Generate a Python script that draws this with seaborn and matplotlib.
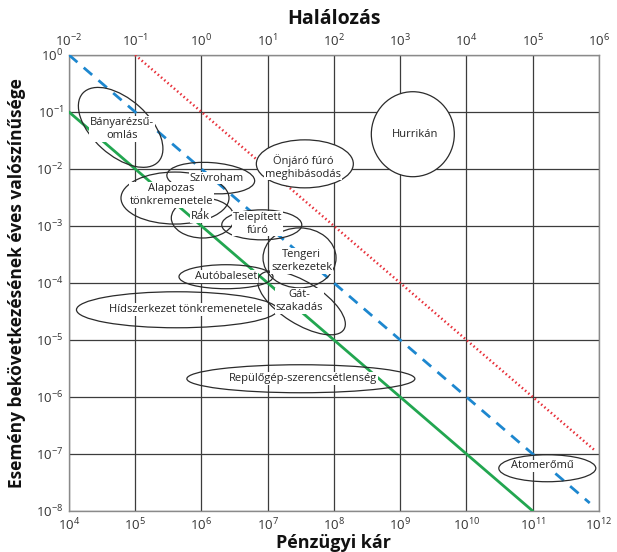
import numpy as np
import pandas as pd
import matplotlib
matplotlib.use("Agg")
import matplotlib.pyplot as plt
import matplotlib.transforms as mtransforms
from matplotlib.patches import Ellipse
from matplotlib.ticker import LogLocator, LogFormatterMathtext, NullLocator
import seaborn as sns

# --- Data (log10 of values) ---
# limit lines: x = pénzügyi kár, y = éves valószínűség
line_names = ["green", "blue", "red"]
line_x = [[1e4, 1e11], [1e4, 10**11.86], [1e5, 10**11.93]]
line_y = [[1e-1, 1e-8], [1e0, 10**-7.86], [1e0, 10**-6.93]]

# events (ellipse centres in log10 units)
events = ["Bányarézsű-\nomlás", "Alapozas\ntönkremenetele", "Szívroham", "Rák",
          "Telepített\nfúró", "Önjáró fúró\nmeghibásodás", "Hurrikán",
          "Tengeri\nszerkezetek", "Autóbaleset", "Gát-\nszakadás",
          "Hídszerkezet tönkremenetele", "Repülőgép-szerencsétlenség", "Atomerőmű"]
ev_lx = [4.78, 5.60, 6.14, 6.02, 6.91, 7.56, 9.19, 7.48, 6.37, 7.51, 5.63, 7.50, 11.22]
ev_ly = [-1.27, -2.51, -2.16, -2.86, -2.98, -1.91, -1.39, -3.56, -3.89, -4.35, -4.47, -5.68, -7.25]
txt_lx = [4.80, 5.55, 6.23, 5.99, 6.85, 7.53, 9.23, 7.51, 6.37, 7.48, 5.76, 7.53, 11.15]
txt_ly = [-1.30, -2.46, -2.16, -2.84, -2.96, -1.96, -1.39, -3.61, -3.89, -4.32, -4.47, -5.68, -7.21]

# --- Style ---
ell_w = [102, 108, 88, 63, 80, 97, 83, 73, 94, 100, 201, 228, 97]
ell_h = [56, 52, 31, 40, 30, 48, 85, 60, 24, 42, 36, 28, 27]
ell_ang = [-42, 0, -4, 0, 0, 0, 0, 0, 0, -32, 0, 0, 0]
ell_fill = [False, False, False, False, False, True, True, False, False, False, False, False, False]
line_colors = {"green": "#22a650", "blue": "#1d87cf", "red": "#e8303a"}
line_styles = {"green": "-", "blue": (0, (4, 3)), "red": (0, (0.6, 1.1))}
line_widths = {"green": 2.0, "blue": 2.0, "red": 1.8}

sns.set_theme(style="white")
plt.rcParams["font.family"] = ["Open Sans", "DejaVu Sans"]

fig = plt.figure(figsize=(6.17, 5.52), dpi=100)
ax = fig.add_axes([0.1118, 0.0743, 0.8590, 0.8261])

df = pd.concat([pd.DataFrame({"x": xs, "y": ys, "line": n})
                for n, xs, ys in zip(line_names, line_x, line_y)])
for n in line_names:
    sub = df[df["line"] == n]
    sns.lineplot(data=sub, x="x", y="y", ax=ax, color=line_colors[n],
                 linestyle=line_styles[n], linewidth=line_widths[n], zorder=3)

ax.set_xscale("log")
ax.set_yscale("log")
ax.set_xlim(1e4, 1e12)
ax.set_ylim(1e-8, 1e0)

ax.xaxis.set_major_locator(LogLocator(base=10, numticks=20))
ax.yaxis.set_major_locator(LogLocator(base=10, numticks=20))
ax.xaxis.set_minor_locator(NullLocator())
ax.yaxis.set_minor_locator(NullLocator())
ax.xaxis.set_major_formatter(LogFormatterMathtext())
ax.yaxis.set_major_formatter(LogFormatterMathtext())
ax.grid(True, color="#3c3c3c", linewidth=0.9, zorder=0)
ax.set_axisbelow(True)
ax.tick_params(length=0, labelsize=9.5, colors="#333333", pad=4)
for s in ax.spines.values():
    s.set_color("#8a8a8a")
    s.set_linewidth(1.0)

top = ax.secondary_xaxis("top", functions=(lambda v: v * 1e-6, lambda v: v * 1e6))
top.xaxis.set_major_locator(LogLocator(base=10, numticks=20))
top.xaxis.set_minor_locator(NullLocator())
top.xaxis.set_major_formatter(LogFormatterMathtext())
top.tick_params(length=0, labelsize=9.5, colors="#333333", pad=4)
top.spines["top"].set_visible(False)

# event ellipses and labels
for i, name in enumerate(events):
    tr = fig.dpi_scale_trans + mtransforms.ScaledTranslation(
        10 ** ev_lx[i], 10 ** ev_ly[i], ax.transData)
    e = Ellipse((0, 0), ell_w[i] / 100, ell_h[i] / 100, angle=ell_ang[i],
                transform=tr, facecolor="white" if ell_fill[i] else "none",
                edgecolor="#2b2b2b", linewidth=0.9, zorder=4 if ell_fill[i] else 5)
    ax.add_patch(e)
    ax.text(10 ** txt_lx[i], 10 ** txt_ly[i], name, ha="center", va="center",
            fontsize=8, color="#222222", linespacing=1.25, zorder=6,
            bbox=dict(facecolor="white", edgecolor="none", pad=0.6))

ax.set_xlabel("Pénzügyi kár", fontsize=13, fontweight="bold", color="#111111")
ax.xaxis.set_label_coords(0.5, -0.05)
ax.set_ylabel("Esemény bekövetkezésének éves valószínűsége", fontsize=12.5,
              fontweight="bold", color="#111111")
ax.yaxis.set_label_coords(-0.082, 0.5)
top.set_xlabel("Halálozás", fontsize=14, fontweight="bold", labelpad=6, color="#111111")

fig.savefig("out.png", dpi=100)
